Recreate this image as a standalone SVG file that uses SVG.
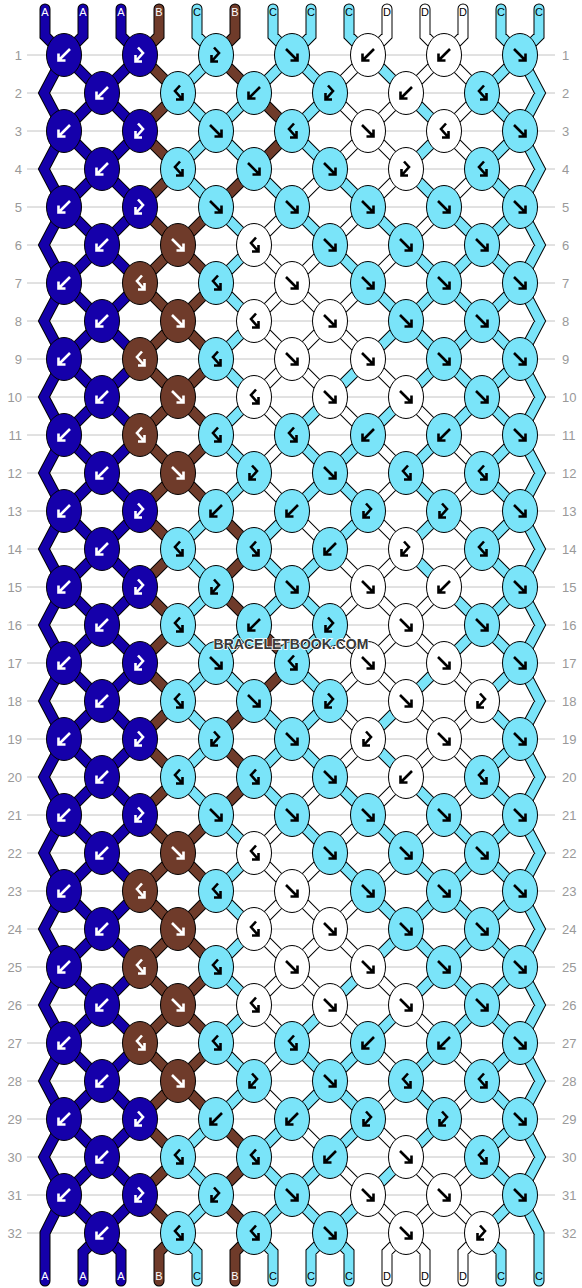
<svg xmlns="http://www.w3.org/2000/svg" width="582" height="1288" viewBox="0 0 582 1288">
<style>
.num{font-family:"Liberation Sans",Arial,sans-serif;font-size:13px;fill:#999}
.nl{text-anchor:end}
.lab{font-family:"Liberation Sans",Arial,sans-serif;font-size:11px;text-anchor:middle}
.lw{fill:#fff}.lk{fill:#000}
.nA{fill:#1500aa;stroke:#fff}.nB{fill:#6f3b2a;stroke:#fff}.nC{fill:#7ae4f9;stroke:#000}.nD{fill:#fff;stroke:#000}
</style>
<defs>
<ellipse id="e" rx="17.5" ry="21.5" stroke="#000" stroke-width="1"/>
<path id="aF" d="M-6-6L5 5M-1.5 5.5H5.5V-1.5" fill="none" stroke-width="2.6"/>
<path id="aB" d="M6-6L-5 5M1.5 5.5H-5.5V-1.5" fill="none" stroke-width="2.6"/>
<path id="aFB" d="M-2-7.5L3-2L-4 6M2 6.5H-4.5V0" fill="none" stroke-width="2.6"/>
<path id="aBF" d="M2-7.5L-3-2L4 6M-2 6.5H4.5V0" fill="none" stroke-width="2.6"/>
<path id="tA" d="M45 9V36L64 55l
-20 38 20 38-20 38 20 38-20 38 20 38-20 38 20 38-20 38 20 38
-20 38 20 38-20 38 20 38-20 38 20 38-20 38 20 38-20 38 20 38
-20 38 20 38-20 38 20 38-20 38 20 38-20 38 20 38-20 38 20 38
-19 38V1281
M83 9V36L64 55l
38 38-38 38 38 38-38 38 38 38-38 38 38 38-38 38 38 38-38 38
38 38-38 38 38 38-38 38 38 38-38 38 38 38-38 38 38 38-38 38
38 38-38 38 38 38-38 38 38 38-38 38 38 38-38 38 38 38-38 38
38 38-19 19V1281
M121 9V36L140 55l
-38 38 38 38-38 38 38 38-38 38 38 38-38 38 38 38-38 38 38 38
-38 38 38 38-38 38 38 38-38 38 38 38-38 38 38 38-38 38 38 38
-38 38 38 38-38 38 38 38-38 38 38 38-38 38 38 38-38 38 38 38
-38 38 19 19V1281"/>
<path id="tB" d="M159 9V36L140 55l
38 38-38 38 38 38-38 38 38 38-38 38 38 38-38 38 38 38-38 38
38 38-38 38 38 38-38 38 38 38-38 38 38 38-38 38 38 38-38 38
38 38-38 38 38 38-38 38 38 38-38 38 38 38-38 38 38 38-38 38
38 38-19 19V1281
M216 207l-38 38 38 38-38 38 38 38-38 38 38 38-38 38 38 38
M216 815l-38 38 38 38-38 38 38 38-38 38 38 38-38 38 38 38
M235 9V36L216 55l38 38M254 169l-38 38M216 511l38 38-38 38 38 38M254 701l-38 38 38 38-38 38M216 1119l38 38-38 38 38 38-19 19V1281
M254 93l38 38-38 38M254 625l38 38-38 38"/>
<path id="tC" d="M197 9V36L216 55l-38 38 38 38-38 38 38 38M216 511l-38 38 38 38-38 38 38 38-38 38 38 38-38 38 38 38M216 1119l-38 38 38 38-38 38 19 19V1281
M254 93l-38 38 38 38M216 207l38 38-38 38 38 38-38 38 38 38-38 38 38 38-38 38M254 625l-38 38 38 38M216 815l38 38-38 38 38 38-38 38 38 38-38 38 38 38-38 38
M273 9V36L292 55l-38 38M254 169l38 38M292 511l-38 38 38 38-38 38M254 701l38 38-38 38 38 38M292 1119l-38 38 38 38-38 38 19 19V1281
M311 9V36L292 55l38 38-38 38 38 38M292 207l38 38M330 397l-38 38 38 38-38 38M330 549l-38 38 38 38-38 38 38 38-38 38 38 38M292 815l38 38M330 1005l-38 38 38 38-38 38M330 1157l-38 38 38 38-19 19V1281
M349 9V36L368 55M330 169l38 38M330 245l38 38M368 359l-38 38M368 435l-38 38 38 38-38 38M330 777l38 38M330 853l38 38M368 967l-38 38M368 1043l-38 38 38 38-38 38M368 1195l-38 38 19 19V1281
M368 55l38 38M368 207l38 38M368 283l38 38-38 38M406 397l-38 38M406 701l-38 38 38 38M368 815l38 38M368 891l38 38-38 38M406 1005l-38 38M406 1157l-38 38
M406 93l38 38-38 38 38 38M406 245l38 38-38 38 38 38-38 38M444 435l-38 38 38 38-38 38 38 38M444 663l-38 38M406 777l38 38M406 853l38 38-38 38 38 38-38 38M444 1043l-38 38 38 38-38 38
M444 207l38 38-38 38 38 38-38 38 38 38-38 38M444 587l38 38-38 38M444 815l38 38-38 38 38 38-38 38 38 38-38 38
M501 9V36L520 55l
-38 38 38 38-38 38 38 38-38 38 38 38-38 38 38 38-38 38 38 38
-38 38 38 38-38 38 38 38-38 38 38 38-38 38 38 38-38 38 38 38
-38 38 38 38-38 38 38 38-38 38 38 38-38 38 38 38-38 38 38 38
-38 38 19 19V1281
M539 9V36L520 55l
20 38-20 38 20 38-20 38 20 38-20 38 20 38-20 38 20 38-20 38
20 38-20 38 20 38-20 38 20 38-20 38 20 38-20 38 20 38-20 38
20 38-20 38 20 38-20 38 20 38-20 38 20 38-20 38 20 38-20 38
19 38V1281"/>
<path id="tD" d="M292 207l-38 38 38 38-38 38 38 38-38 38 38 38-38 38 38 38M292 815l-38 38 38 38-38 38 38 38-38 38 38 38-38 38 38 38
M330 169l-38 38M330 245l-38 38 38 38-38 38 38 38M292 511l38 38M330 777l-38 38M330 853l-38 38 38 38-38 38 38 38M292 1119l38 38
M368 55l-38 38 38 38-38 38M368 207l-38 38M368 283l-38 38 38 38M330 397l38 38M330 549l38 38-38 38 38 38-38 38 38 38-38 38M368 815l-38 38M368 891l-38 38 38 38M330 1005l38 38M330 1157l38 38
M387 9V36L368 55M406 93l-38 38 38 38-38 38M406 245l-38 38M368 359l38 38M368 435l38 38-38 38 38 38-38 38 38 38-38 38 38 38M406 777l-38 38M406 853l-38 38M368 967l38 38M368 1043l38 38-38 38 38 38M368 1195l38 38-19 19V1281
M425 9V36L444 55l-38 38M444 207l-38 38M406 397l38 38M444 587l-38 38 38 38M406 701l38 38-38 38M444 815l-38 38M406 1005l38 38M406 1157l38 38-38 38 19 19V1281
M463 9V36L444 55l38 38-38 38 38 38-38 38M444 435l38 38-38 38 38 38-38 38M444 663l38 38-38 38 38 38-38 38M444 1043l38 38-38 38 38 38-38 38 38 38-19 19V1281"/>
</defs>
<rect width="582" height="1288" fill="#fff"/>
<path id="grid" fill="none" stroke="#c4c4c4" stroke-width="1" d="M27 55H555M27 93H555M27 131H555M27 169H555M27 207H555M27 245H555M27 283H555M27 321H555M27 359H555M27 397H555M27 435H555M27 473H555M27 511H555M27 549H555M27 587H555M27 625H555M27 663H555M27 701H555M27 739H555M27 777H555M27 815H555M27 853H555M27 891H555M27 929H555M27 967H555M27 1005H555M27 1043H555M27 1081H555M27 1119H555M27 1157H555M27 1195H555M27 1233H555"/>
<g id="rownums-left" class="num nl">
<text x="22" y="59.5">1</text><text x="22" y="97.5">2</text><text x="22" y="135.5">3</text><text x="22" y="173.5">4</text><text x="22" y="211.5">5</text><text x="22" y="249.5">6</text><text x="22" y="287.5">7</text><text x="22" y="325.5">8</text><text x="22" y="363.5">9</text><text x="22" y="401.5">10</text><text x="22" y="439.5">11</text><text x="22" y="477.5">12</text><text x="22" y="515.5">13</text><text x="22" y="553.5">14</text><text x="22" y="591.5">15</text><text x="22" y="629.5">16</text><text x="22" y="667.5">17</text><text x="22" y="705.5">18</text><text x="22" y="743.5">19</text><text x="22" y="781.5">20</text><text x="22" y="819.5">21</text><text x="22" y="857.5">22</text><text x="22" y="895.5">23</text><text x="22" y="933.5">24</text><text x="22" y="971.5">25</text><text x="22" y="1009.5">26</text><text x="22" y="1047.5">27</text><text x="22" y="1085.5">28</text><text x="22" y="1123.5">29</text><text x="22" y="1161.5">30</text><text x="22" y="1199.5">31</text><text x="22" y="1237.5">32</text>
</g>
<g id="rownums-right" class="num">
<text x="562" y="59.5">1</text><text x="562" y="97.5">2</text><text x="562" y="135.5">3</text><text x="562" y="173.5">4</text><text x="562" y="211.5">5</text><text x="562" y="249.5">6</text><text x="562" y="287.5">7</text><text x="562" y="325.5">8</text><text x="562" y="363.5">9</text><text x="562" y="401.5">10</text><text x="562" y="439.5">11</text><text x="562" y="477.5">12</text><text x="562" y="515.5">13</text><text x="562" y="553.5">14</text><text x="562" y="591.5">15</text><text x="562" y="629.5">16</text><text x="562" y="667.5">17</text><text x="562" y="705.5">18</text><text x="562" y="743.5">19</text><text x="562" y="781.5">20</text><text x="562" y="819.5">21</text><text x="562" y="857.5">22</text><text x="562" y="895.5">23</text><text x="562" y="933.5">24</text><text x="562" y="971.5">25</text><text x="562" y="1009.5">26</text><text x="562" y="1047.5">27</text><text x="562" y="1085.5">28</text><text x="562" y="1123.5">29</text><text x="562" y="1161.5">30</text><text x="562" y="1199.5">31</text><text x="562" y="1237.5">32</text>
</g>
<g id="connectors" fill="none" stroke-linecap="round" stroke-linejoin="miter" stroke-miterlimit="10">
<g stroke="#000" stroke-width="11"><use href="#tA"/><use href="#tB"/><use href="#tC"/><use href="#tD"/></g>
<use href="#tA" stroke="#1500aa" stroke-width="9"/>
<use href="#tB" stroke="#6f3b2a" stroke-width="9"/>
<use href="#tC" stroke="#7ae4f9" stroke-width="9"/>
<use href="#tD" stroke="#ffffff" stroke-width="9"/>
</g>
<g id="knots">
<g id="r1" transform="translate(0 55)">
<g id="k1-1" class="nA" transform="translate(64)"><use href="#e"/><use href="#aB"/></g>
<g id="k1-2" class="nA" transform="translate(140)"><use href="#e"/><use href="#aFB"/></g>
<g id="k1-3" class="nC" transform="translate(216)"><use href="#e"/><use href="#aFB"/></g>
<g id="k1-4" class="nC" transform="translate(292)"><use href="#e"/><use href="#aF"/></g>
<g id="k1-5" class="nD" transform="translate(368)"><use href="#e"/><use href="#aB"/></g>
<g id="k1-6" class="nD" transform="translate(444)"><use href="#e"/><use href="#aB"/></g>
<g id="k1-7" class="nC" transform="translate(520)"><use href="#e"/><use href="#aF"/></g>
</g>
<g id="r2" transform="translate(0 93)">
<g id="k2-1" class="nA" transform="translate(102)"><use href="#e"/><use href="#aB"/></g>
<g id="k2-2" class="nC" transform="translate(178)"><use href="#e"/><use href="#aBF"/></g>
<g id="k2-3" class="nC" transform="translate(254)"><use href="#e"/><use href="#aB"/></g>
<g id="k2-4" class="nC" transform="translate(330)"><use href="#e"/><use href="#aFB"/></g>
<g id="k2-5" class="nD" transform="translate(406)"><use href="#e"/><use href="#aB"/></g>
<g id="k2-6" class="nC" transform="translate(482)"><use href="#e"/><use href="#aBF"/></g>
</g>
<g id="r3" transform="translate(0 131)">
<g id="k3-1" class="nA" transform="translate(64)"><use href="#e"/><use href="#aB"/></g>
<g id="k3-2" class="nA" transform="translate(140)"><use href="#e"/><use href="#aFB"/></g>
<g id="k3-3" class="nC" transform="translate(216)"><use href="#e"/><use href="#aF"/></g>
<g id="k3-4" class="nC" transform="translate(292)"><use href="#e"/><use href="#aBF"/></g>
<g id="k3-5" class="nD" transform="translate(368)"><use href="#e"/><use href="#aF"/></g>
<g id="k3-6" class="nD" transform="translate(444)"><use href="#e"/><use href="#aBF"/></g>
<g id="k3-7" class="nC" transform="translate(520)"><use href="#e"/><use href="#aF"/></g>
</g>
<g id="r4" transform="translate(0 169)">
<g id="k4-1" class="nA" transform="translate(102)"><use href="#e"/><use href="#aB"/></g>
<g id="k4-2" class="nC" transform="translate(178)"><use href="#e"/><use href="#aBF"/></g>
<g id="k4-3" class="nC" transform="translate(254)"><use href="#e"/><use href="#aF"/></g>
<g id="k4-4" class="nC" transform="translate(330)"><use href="#e"/><use href="#aF"/></g>
<g id="k4-5" class="nD" transform="translate(406)"><use href="#e"/><use href="#aFB"/></g>
<g id="k4-6" class="nC" transform="translate(482)"><use href="#e"/><use href="#aBF"/></g>
</g>
<g id="r5" transform="translate(0 207)">
<g id="k5-1" class="nA" transform="translate(64)"><use href="#e"/><use href="#aB"/></g>
<g id="k5-2" class="nA" transform="translate(140)"><use href="#e"/><use href="#aFB"/></g>
<g id="k5-3" class="nC" transform="translate(216)"><use href="#e"/><use href="#aF"/></g>
<g id="k5-4" class="nC" transform="translate(292)"><use href="#e"/><use href="#aF"/></g>
<g id="k5-5" class="nC" transform="translate(368)"><use href="#e"/><use href="#aF"/></g>
<g id="k5-6" class="nC" transform="translate(444)"><use href="#e"/><use href="#aF"/></g>
<g id="k5-7" class="nC" transform="translate(520)"><use href="#e"/><use href="#aF"/></g>
</g>
<g id="r6" transform="translate(0 245)">
<g id="k6-1" class="nA" transform="translate(102)"><use href="#e"/><use href="#aB"/></g>
<g id="k6-2" class="nB" transform="translate(178)"><use href="#e"/><use href="#aF"/></g>
<g id="k6-3" class="nD" transform="translate(254)"><use href="#e"/><use href="#aBF"/></g>
<g id="k6-4" class="nC" transform="translate(330)"><use href="#e"/><use href="#aF"/></g>
<g id="k6-5" class="nC" transform="translate(406)"><use href="#e"/><use href="#aF"/></g>
<g id="k6-6" class="nC" transform="translate(482)"><use href="#e"/><use href="#aF"/></g>
</g>
<g id="r7" transform="translate(0 283)">
<g id="k7-1" class="nA" transform="translate(64)"><use href="#e"/><use href="#aB"/></g>
<g id="k7-2" class="nB" transform="translate(140)"><use href="#e"/><use href="#aBF"/></g>
<g id="k7-3" class="nC" transform="translate(216)"><use href="#e"/><use href="#aBF"/></g>
<g id="k7-4" class="nD" transform="translate(292)"><use href="#e"/><use href="#aF"/></g>
<g id="k7-5" class="nC" transform="translate(368)"><use href="#e"/><use href="#aF"/></g>
<g id="k7-6" class="nC" transform="translate(444)"><use href="#e"/><use href="#aF"/></g>
<g id="k7-7" class="nC" transform="translate(520)"><use href="#e"/><use href="#aF"/></g>
</g>
<g id="r8" transform="translate(0 321)">
<g id="k8-1" class="nA" transform="translate(102)"><use href="#e"/><use href="#aB"/></g>
<g id="k8-2" class="nB" transform="translate(178)"><use href="#e"/><use href="#aF"/></g>
<g id="k8-3" class="nD" transform="translate(254)"><use href="#e"/><use href="#aBF"/></g>
<g id="k8-4" class="nD" transform="translate(330)"><use href="#e"/><use href="#aF"/></g>
<g id="k8-5" class="nC" transform="translate(406)"><use href="#e"/><use href="#aF"/></g>
<g id="k8-6" class="nC" transform="translate(482)"><use href="#e"/><use href="#aF"/></g>
</g>
<g id="r9" transform="translate(0 359)">
<g id="k9-1" class="nA" transform="translate(64)"><use href="#e"/><use href="#aB"/></g>
<g id="k9-2" class="nB" transform="translate(140)"><use href="#e"/><use href="#aBF"/></g>
<g id="k9-3" class="nC" transform="translate(216)"><use href="#e"/><use href="#aBF"/></g>
<g id="k9-4" class="nD" transform="translate(292)"><use href="#e"/><use href="#aF"/></g>
<g id="k9-5" class="nD" transform="translate(368)"><use href="#e"/><use href="#aF"/></g>
<g id="k9-6" class="nC" transform="translate(444)"><use href="#e"/><use href="#aF"/></g>
<g id="k9-7" class="nC" transform="translate(520)"><use href="#e"/><use href="#aF"/></g>
</g>
<g id="r10" transform="translate(0 397)">
<g id="k10-1" class="nA" transform="translate(102)"><use href="#e"/><use href="#aB"/></g>
<g id="k10-2" class="nB" transform="translate(178)"><use href="#e"/><use href="#aF"/></g>
<g id="k10-3" class="nD" transform="translate(254)"><use href="#e"/><use href="#aBF"/></g>
<g id="k10-4" class="nD" transform="translate(330)"><use href="#e"/><use href="#aF"/></g>
<g id="k10-5" class="nD" transform="translate(406)"><use href="#e"/><use href="#aF"/></g>
<g id="k10-6" class="nC" transform="translate(482)"><use href="#e"/><use href="#aF"/></g>
</g>
<g id="r11" transform="translate(0 435)">
<g id="k11-1" class="nA" transform="translate(64)"><use href="#e"/><use href="#aB"/></g>
<g id="k11-2" class="nB" transform="translate(140)"><use href="#e"/><use href="#aBF"/></g>
<g id="k11-3" class="nC" transform="translate(216)"><use href="#e"/><use href="#aBF"/></g>
<g id="k11-4" class="nC" transform="translate(292)"><use href="#e"/><use href="#aBF"/></g>
<g id="k11-5" class="nC" transform="translate(368)"><use href="#e"/><use href="#aB"/></g>
<g id="k11-6" class="nC" transform="translate(444)"><use href="#e"/><use href="#aB"/></g>
<g id="k11-7" class="nC" transform="translate(520)"><use href="#e"/><use href="#aF"/></g>
</g>
<g id="r12" transform="translate(0 473)">
<g id="k12-1" class="nA" transform="translate(102)"><use href="#e"/><use href="#aB"/></g>
<g id="k12-2" class="nB" transform="translate(178)"><use href="#e"/><use href="#aF"/></g>
<g id="k12-3" class="nC" transform="translate(254)"><use href="#e"/><use href="#aFB"/></g>
<g id="k12-4" class="nC" transform="translate(330)"><use href="#e"/><use href="#aF"/></g>
<g id="k12-5" class="nC" transform="translate(406)"><use href="#e"/><use href="#aBF"/></g>
<g id="k12-6" class="nC" transform="translate(482)"><use href="#e"/><use href="#aBF"/></g>
</g>
<g id="r13" transform="translate(0 511)">
<g id="k13-1" class="nA" transform="translate(64)"><use href="#e"/><use href="#aB"/></g>
<g id="k13-2" class="nA" transform="translate(140)"><use href="#e"/><use href="#aFB"/></g>
<g id="k13-3" class="nC" transform="translate(216)"><use href="#e"/><use href="#aB"/></g>
<g id="k13-4" class="nC" transform="translate(292)"><use href="#e"/><use href="#aB"/></g>
<g id="k13-5" class="nC" transform="translate(368)"><use href="#e"/><use href="#aFB"/></g>
<g id="k13-6" class="nC" transform="translate(444)"><use href="#e"/><use href="#aFB"/></g>
<g id="k13-7" class="nC" transform="translate(520)"><use href="#e"/><use href="#aF"/></g>
</g>
<g id="r14" transform="translate(0 549)">
<g id="k14-1" class="nA" transform="translate(102)"><use href="#e"/><use href="#aB"/></g>
<g id="k14-2" class="nC" transform="translate(178)"><use href="#e"/><use href="#aBF"/></g>
<g id="k14-3" class="nC" transform="translate(254)"><use href="#e"/><use href="#aBF"/></g>
<g id="k14-4" class="nC" transform="translate(330)"><use href="#e"/><use href="#aB"/></g>
<g id="k14-5" class="nD" transform="translate(406)"><use href="#e"/><use href="#aFB"/></g>
<g id="k14-6" class="nC" transform="translate(482)"><use href="#e"/><use href="#aBF"/></g>
</g>
<g id="r15" transform="translate(0 587)">
<g id="k15-1" class="nA" transform="translate(64)"><use href="#e"/><use href="#aB"/></g>
<g id="k15-2" class="nA" transform="translate(140)"><use href="#e"/><use href="#aFB"/></g>
<g id="k15-3" class="nC" transform="translate(216)"><use href="#e"/><use href="#aFB"/></g>
<g id="k15-4" class="nC" transform="translate(292)"><use href="#e"/><use href="#aF"/></g>
<g id="k15-5" class="nD" transform="translate(368)"><use href="#e"/><use href="#aF"/></g>
<g id="k15-6" class="nD" transform="translate(444)"><use href="#e"/><use href="#aB"/></g>
<g id="k15-7" class="nC" transform="translate(520)"><use href="#e"/><use href="#aF"/></g>
</g>
<g id="r16" transform="translate(0 625)">
<g id="k16-1" class="nA" transform="translate(102)"><use href="#e"/><use href="#aB"/></g>
<g id="k16-2" class="nC" transform="translate(178)"><use href="#e"/><use href="#aBF"/></g>
<g id="k16-3" class="nC" transform="translate(254)"><use href="#e"/><use href="#aB"/></g>
<g id="k16-4" class="nC" transform="translate(330)"><use href="#e"/><use href="#aFB"/></g>
<g id="k16-5" class="nD" transform="translate(406)"><use href="#e"/><use href="#aF"/></g>
<g id="k16-6" class="nC" transform="translate(482)"><use href="#e"/><use href="#aF"/></g>
</g>
<g id="r17" transform="translate(0 663)">
<g id="k17-1" class="nA" transform="translate(64)"><use href="#e"/><use href="#aB"/></g>
<g id="k17-2" class="nA" transform="translate(140)"><use href="#e"/><use href="#aFB"/></g>
<g id="k17-3" class="nC" transform="translate(216)"><use href="#e"/><use href="#aF"/></g>
<g id="k17-4" class="nC" transform="translate(292)"><use href="#e"/><use href="#aBF"/></g>
<g id="k17-5" class="nD" transform="translate(368)"><use href="#e"/><use href="#aF"/></g>
<g id="k17-6" class="nD" transform="translate(444)"><use href="#e"/><use href="#aF"/></g>
<g id="k17-7" class="nC" transform="translate(520)"><use href="#e"/><use href="#aF"/></g>
</g>
<g id="r18" transform="translate(0 701)">
<g id="k18-1" class="nA" transform="translate(102)"><use href="#e"/><use href="#aB"/></g>
<g id="k18-2" class="nC" transform="translate(178)"><use href="#e"/><use href="#aBF"/></g>
<g id="k18-3" class="nC" transform="translate(254)"><use href="#e"/><use href="#aF"/></g>
<g id="k18-4" class="nC" transform="translate(330)"><use href="#e"/><use href="#aFB"/></g>
<g id="k18-5" class="nD" transform="translate(406)"><use href="#e"/><use href="#aF"/></g>
<g id="k18-6" class="nD" transform="translate(482)"><use href="#e"/><use href="#aFB"/></g>
</g>
<g id="r19" transform="translate(0 739)">
<g id="k19-1" class="nA" transform="translate(64)"><use href="#e"/><use href="#aB"/></g>
<g id="k19-2" class="nA" transform="translate(140)"><use href="#e"/><use href="#aFB"/></g>
<g id="k19-3" class="nC" transform="translate(216)"><use href="#e"/><use href="#aFB"/></g>
<g id="k19-4" class="nC" transform="translate(292)"><use href="#e"/><use href="#aF"/></g>
<g id="k19-5" class="nD" transform="translate(368)"><use href="#e"/><use href="#aFB"/></g>
<g id="k19-6" class="nD" transform="translate(444)"><use href="#e"/><use href="#aF"/></g>
<g id="k19-7" class="nC" transform="translate(520)"><use href="#e"/><use href="#aF"/></g>
</g>
<g id="r20" transform="translate(0 777)">
<g id="k20-1" class="nA" transform="translate(102)"><use href="#e"/><use href="#aB"/></g>
<g id="k20-2" class="nC" transform="translate(178)"><use href="#e"/><use href="#aBF"/></g>
<g id="k20-3" class="nC" transform="translate(254)"><use href="#e"/><use href="#aBF"/></g>
<g id="k20-4" class="nC" transform="translate(330)"><use href="#e"/><use href="#aF"/></g>
<g id="k20-5" class="nD" transform="translate(406)"><use href="#e"/><use href="#aB"/></g>
<g id="k20-6" class="nC" transform="translate(482)"><use href="#e"/><use href="#aBF"/></g>
</g>
<g id="r21" transform="translate(0 815)">
<g id="k21-1" class="nA" transform="translate(64)"><use href="#e"/><use href="#aB"/></g>
<g id="k21-2" class="nA" transform="translate(140)"><use href="#e"/><use href="#aFB"/></g>
<g id="k21-3" class="nC" transform="translate(216)"><use href="#e"/><use href="#aF"/></g>
<g id="k21-4" class="nC" transform="translate(292)"><use href="#e"/><use href="#aF"/></g>
<g id="k21-5" class="nC" transform="translate(368)"><use href="#e"/><use href="#aF"/></g>
<g id="k21-6" class="nC" transform="translate(444)"><use href="#e"/><use href="#aF"/></g>
<g id="k21-7" class="nC" transform="translate(520)"><use href="#e"/><use href="#aF"/></g>
</g>
<g id="r22" transform="translate(0 853)">
<g id="k22-1" class="nA" transform="translate(102)"><use href="#e"/><use href="#aB"/></g>
<g id="k22-2" class="nB" transform="translate(178)"><use href="#e"/><use href="#aF"/></g>
<g id="k22-3" class="nD" transform="translate(254)"><use href="#e"/><use href="#aBF"/></g>
<g id="k22-4" class="nC" transform="translate(330)"><use href="#e"/><use href="#aF"/></g>
<g id="k22-5" class="nC" transform="translate(406)"><use href="#e"/><use href="#aF"/></g>
<g id="k22-6" class="nC" transform="translate(482)"><use href="#e"/><use href="#aF"/></g>
</g>
<g id="r23" transform="translate(0 891)">
<g id="k23-1" class="nA" transform="translate(64)"><use href="#e"/><use href="#aB"/></g>
<g id="k23-2" class="nB" transform="translate(140)"><use href="#e"/><use href="#aBF"/></g>
<g id="k23-3" class="nC" transform="translate(216)"><use href="#e"/><use href="#aBF"/></g>
<g id="k23-4" class="nD" transform="translate(292)"><use href="#e"/><use href="#aF"/></g>
<g id="k23-5" class="nC" transform="translate(368)"><use href="#e"/><use href="#aF"/></g>
<g id="k23-6" class="nC" transform="translate(444)"><use href="#e"/><use href="#aF"/></g>
<g id="k23-7" class="nC" transform="translate(520)"><use href="#e"/><use href="#aF"/></g>
</g>
<g id="r24" transform="translate(0 929)">
<g id="k24-1" class="nA" transform="translate(102)"><use href="#e"/><use href="#aB"/></g>
<g id="k24-2" class="nB" transform="translate(178)"><use href="#e"/><use href="#aF"/></g>
<g id="k24-3" class="nD" transform="translate(254)"><use href="#e"/><use href="#aBF"/></g>
<g id="k24-4" class="nD" transform="translate(330)"><use href="#e"/><use href="#aF"/></g>
<g id="k24-5" class="nC" transform="translate(406)"><use href="#e"/><use href="#aF"/></g>
<g id="k24-6" class="nC" transform="translate(482)"><use href="#e"/><use href="#aF"/></g>
</g>
<g id="r25" transform="translate(0 967)">
<g id="k25-1" class="nA" transform="translate(64)"><use href="#e"/><use href="#aB"/></g>
<g id="k25-2" class="nB" transform="translate(140)"><use href="#e"/><use href="#aBF"/></g>
<g id="k25-3" class="nC" transform="translate(216)"><use href="#e"/><use href="#aBF"/></g>
<g id="k25-4" class="nD" transform="translate(292)"><use href="#e"/><use href="#aF"/></g>
<g id="k25-5" class="nD" transform="translate(368)"><use href="#e"/><use href="#aF"/></g>
<g id="k25-6" class="nC" transform="translate(444)"><use href="#e"/><use href="#aF"/></g>
<g id="k25-7" class="nC" transform="translate(520)"><use href="#e"/><use href="#aF"/></g>
</g>
<g id="r26" transform="translate(0 1005)">
<g id="k26-1" class="nA" transform="translate(102)"><use href="#e"/><use href="#aB"/></g>
<g id="k26-2" class="nB" transform="translate(178)"><use href="#e"/><use href="#aF"/></g>
<g id="k26-3" class="nD" transform="translate(254)"><use href="#e"/><use href="#aBF"/></g>
<g id="k26-4" class="nD" transform="translate(330)"><use href="#e"/><use href="#aF"/></g>
<g id="k26-5" class="nD" transform="translate(406)"><use href="#e"/><use href="#aF"/></g>
<g id="k26-6" class="nC" transform="translate(482)"><use href="#e"/><use href="#aF"/></g>
</g>
<g id="r27" transform="translate(0 1043)">
<g id="k27-1" class="nA" transform="translate(64)"><use href="#e"/><use href="#aB"/></g>
<g id="k27-2" class="nB" transform="translate(140)"><use href="#e"/><use href="#aBF"/></g>
<g id="k27-3" class="nC" transform="translate(216)"><use href="#e"/><use href="#aBF"/></g>
<g id="k27-4" class="nC" transform="translate(292)"><use href="#e"/><use href="#aBF"/></g>
<g id="k27-5" class="nC" transform="translate(368)"><use href="#e"/><use href="#aB"/></g>
<g id="k27-6" class="nC" transform="translate(444)"><use href="#e"/><use href="#aB"/></g>
<g id="k27-7" class="nC" transform="translate(520)"><use href="#e"/><use href="#aF"/></g>
</g>
<g id="r28" transform="translate(0 1081)">
<g id="k28-1" class="nA" transform="translate(102)"><use href="#e"/><use href="#aB"/></g>
<g id="k28-2" class="nB" transform="translate(178)"><use href="#e"/><use href="#aF"/></g>
<g id="k28-3" class="nC" transform="translate(254)"><use href="#e"/><use href="#aFB"/></g>
<g id="k28-4" class="nC" transform="translate(330)"><use href="#e"/><use href="#aF"/></g>
<g id="k28-5" class="nC" transform="translate(406)"><use href="#e"/><use href="#aBF"/></g>
<g id="k28-6" class="nC" transform="translate(482)"><use href="#e"/><use href="#aBF"/></g>
</g>
<g id="r29" transform="translate(0 1119)">
<g id="k29-1" class="nA" transform="translate(64)"><use href="#e"/><use href="#aB"/></g>
<g id="k29-2" class="nA" transform="translate(140)"><use href="#e"/><use href="#aFB"/></g>
<g id="k29-3" class="nC" transform="translate(216)"><use href="#e"/><use href="#aB"/></g>
<g id="k29-4" class="nC" transform="translate(292)"><use href="#e"/><use href="#aB"/></g>
<g id="k29-5" class="nC" transform="translate(368)"><use href="#e"/><use href="#aFB"/></g>
<g id="k29-6" class="nC" transform="translate(444)"><use href="#e"/><use href="#aFB"/></g>
<g id="k29-7" class="nC" transform="translate(520)"><use href="#e"/><use href="#aF"/></g>
</g>
<g id="r30" transform="translate(0 1157)">
<g id="k30-1" class="nA" transform="translate(102)"><use href="#e"/><use href="#aB"/></g>
<g id="k30-2" class="nC" transform="translate(178)"><use href="#e"/><use href="#aBF"/></g>
<g id="k30-3" class="nC" transform="translate(254)"><use href="#e"/><use href="#aBF"/></g>
<g id="k30-4" class="nC" transform="translate(330)"><use href="#e"/><use href="#aB"/></g>
<g id="k30-5" class="nD" transform="translate(406)"><use href="#e"/><use href="#aF"/></g>
<g id="k30-6" class="nC" transform="translate(482)"><use href="#e"/><use href="#aBF"/></g>
</g>
<g id="r31" transform="translate(0 1195)">
<g id="k31-1" class="nA" transform="translate(64)"><use href="#e"/><use href="#aB"/></g>
<g id="k31-2" class="nA" transform="translate(140)"><use href="#e"/><use href="#aFB"/></g>
<g id="k31-3" class="nC" transform="translate(216)"><use href="#e"/><use href="#aFB"/></g>
<g id="k31-4" class="nC" transform="translate(292)"><use href="#e"/><use href="#aF"/></g>
<g id="k31-5" class="nD" transform="translate(368)"><use href="#e"/><use href="#aF"/></g>
<g id="k31-6" class="nD" transform="translate(444)"><use href="#e"/><use href="#aF"/></g>
<g id="k31-7" class="nC" transform="translate(520)"><use href="#e"/><use href="#aF"/></g>
</g>
<g id="r32" transform="translate(0 1233)">
<g id="k32-1" class="nA" transform="translate(102)"><use href="#e"/><use href="#aB"/></g>
<g id="k32-2" class="nC" transform="translate(178)"><use href="#e"/><use href="#aBF"/></g>
<g id="k32-3" class="nC" transform="translate(254)"><use href="#e"/><use href="#aBF"/></g>
<g id="k32-4" class="nC" transform="translate(330)"><use href="#e"/><use href="#aF"/></g>
<g id="k32-5" class="nD" transform="translate(406)"><use href="#e"/><use href="#aF"/></g>
<g id="k32-6" class="nD" transform="translate(482)"><use href="#e"/><use href="#aFB"/></g>
</g>
</g>
<g id="labels-top" class="lab">
<text class="lw" x="45" y="16">A</text><text class="lw" x="83" y="16">A</text><text class="lw" x="121" y="16">A</text><text class="lw" x="159" y="16">B</text><text class="lk" x="197" y="16">C</text><text class="lw" x="235" y="16">B</text><text class="lk" x="273" y="16">C</text><text class="lk" x="311" y="16">C</text><text class="lk" x="349" y="16">C</text><text class="lk" x="387" y="16">D</text><text class="lk" x="425" y="16">D</text><text class="lk" x="463" y="16">D</text><text class="lk" x="501" y="16">C</text><text class="lk" x="539" y="16">C</text>
</g>
<g id="labels-bottom" class="lab">
<text class="lw" x="45" y="1280">A</text><text class="lw" x="83" y="1280">A</text><text class="lw" x="121" y="1280">A</text><text class="lw" x="159" y="1280">B</text><text class="lk" x="197" y="1280">C</text><text class="lw" x="235" y="1280">B</text><text class="lk" x="273" y="1280">C</text><text class="lk" x="311" y="1280">C</text><text class="lk" x="349" y="1280">C</text><text class="lk" x="387" y="1280">D</text><text class="lk" x="425" y="1280">D</text><text class="lk" x="463" y="1280">D</text><text class="lk" x="501" y="1280">C</text><text class="lk" x="539" y="1280">C</text>
</g>
<text id="watermark" x="291" y="649" text-anchor="middle" font-family="Liberation Sans, Arial, sans-serif" font-weight="bold" font-size="14" fill="#383838" stroke="#ffffff" stroke-width="1.5" paint-order="stroke">BRACELETBOOK.COM</text>
</svg>
